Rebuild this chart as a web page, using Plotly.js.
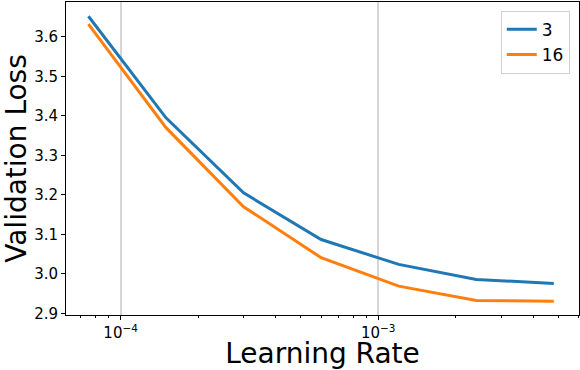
<!DOCTYPE html>
<html>
<head>
<meta charset="utf-8">
<script src="https://cdn.plot.ly/plotly-3.0.1.min.js"></script>
<style>
  body { margin: 0; padding: 0; background: #fff; }
  #chart { width: 580px; height: 370px; }
</style>
</head>
<body>
<div id="chart"></div>
<script>
// learning rates swept
var learningRates = [7.5e-5, 1.5e-4, 3e-4, 6e-4, 1.2e-3, 2.4e-3, 4.8e-3];

// validation loss per setting
var loss3 = [3.652, 3.395, 3.205, 3.087, 3.024, 2.986, 2.976];
var loss16 = [3.632, 3.370, 3.170, 3.041, 2.969, 2.933, 2.931];

var seriesNames = ['3', '16'];
var xTickVals = [1e-4, 1e-3];
var xTickText = ['10<sup>\u22124</sup>', '10<sup>\u22123</sup>'];
var yTickVals = [2.9, 3.0, 3.1, 3.2, 3.3, 3.4, 3.5, 3.6];
var yTickText = ['2.9', '3.0', '3.1', '3.2', '3.3', '3.4', '3.5', '3.6'];

var trace1 = {
	x: learningRates,
	y: loss3,
	name: seriesNames[0],
	mode: 'lines',
	type: 'scatter',
	line: {color: '#1f77b4', width: 3}
};

var trace2 = {
	x: learningRates,
	y: loss16,
	name: seriesNames[1],
	mode: 'lines',
	type: 'scatter',
	line: {color: '#ff7f0e', width: 3}
};

var layout = {
	width: 580,
	height: 370,
	paper_bgcolor: '#fff',
	plot_bgcolor: '#fff',
	font: {family: 'DejaVu Sans, sans-serif', size: 15, color: '#000'},
	margin: {l: 66, r: 1, t: 2, b: 55},
	showlegend: true,
	xaxis: {
		type: 'log',
		range: [-4.212, -2.221],
		tickvals: xTickVals,
		ticktext: xTickText,
		ticks: 'outside',
		ticklen: 4,
		tickcolor: '#000',
		showgrid: true,
		gridcolor: '#d6d6d6',
		gridwidth: 1.5,
		zeroline: false,
		showline: true,
		linecolor: '#000',
		linewidth: 1,
		mirror: true,
		minor: {dtick: 'D1', ticks: 'outside', ticklen: 2, tickcolor: '#000', showgrid: false},
		tickfont: {size: 15},
		title: {text: 'Learning Rate', font: {size: 28}, standoff: 7}
	},
	yaxis: {
		range: [2.896, 3.688],
		tickvals: yTickVals,
		ticktext: yTickText,
		ticks: 'outside',
		ticklen: 4,
		tickcolor: '#000',
		showgrid: false,
		zeroline: false,
		showline: true,
		linecolor: '#000',
		linewidth: 1,
		mirror: true,
		tickfont: {size: 15},
		title: {text: 'Validation Loss', font: {size: 28}, standoff: 6}
	},
	legend: {
		x: 0.982,
		y: 0.972,
		xanchor: 'right',
		yanchor: 'top',
		bgcolor: '#fff',
		bordercolor: '#d0d0d0',
		borderwidth: 1,
		font: {size: 17}
	}
};

Plotly.newPlot('chart', [trace1, trace2], layout, {displayModeBar: false});
</script>
</body>
</html>
